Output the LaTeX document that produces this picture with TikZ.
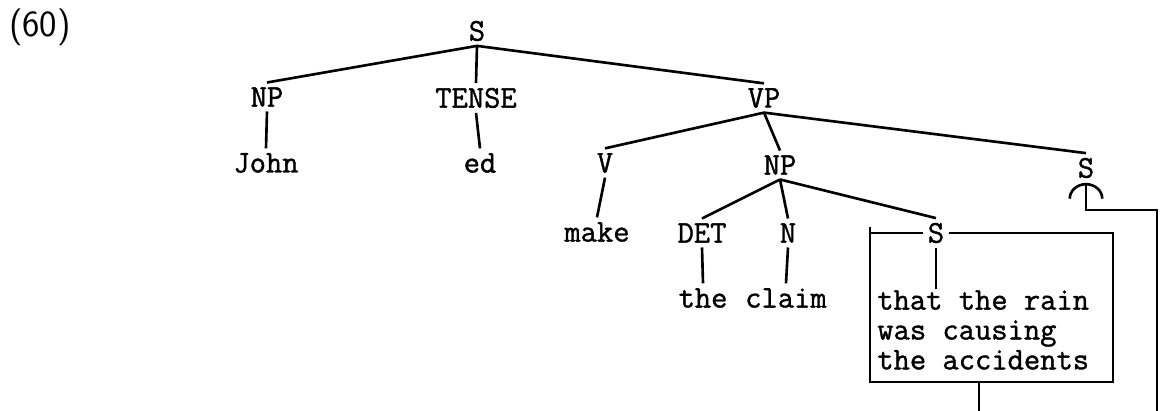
\documentclass[tikz,border=0pt]{standalone}
\usepackage{fontspec}
\setmonofont{Latin Modern Mono}[FakeBold=1.2]
\usetikzlibrary{arrows.meta}
\begin{document}
\begin{tikzpicture}[x=0.02cm,y=-0.02cm,line width=1.5pt,
  tn/.style={font=\fontsize{18}{17}\selectfont\ttfamily,inner sep=2pt},
  mv/.style={-{Arc Barb[length=9pt,width=20pt]}}]
\useasboundingbox (0,0) rectangle (1160,411);
\node[font=\fontsize{21}{21}\selectfont\sffamily] (num) at (40,27) {(60)};
\node[tn] (s) at (477,31) {S};
\node[tn] (np) at (267,97) {NP};
\node[tn] (tense) at (476,98) {TENSE};
\node[tn] (vp) at (764,98) {VP};
\node[tn] (john) at (266,163) {John};
\node[tn] (ed) at (480,163) {ed};
\node[tn] (v) at (605,163) {V};
\node[tn] (np2) at (780,165) {NP};
\node[tn] (s2) at (1086,168) {S};
\node[tn] (make) at (597,232) {make};
\node[tn] (det) at (702,233) {DET};
\node[tn] (n) at (788,233) {N};
\node[tn] (s3) at (936,233) {S};
\node[tn] (the) at (703,298) {the};
\node[tn] (claim) at (786,298) {claim};
\node[tn,align=left,anchor=north west,inner sep=0pt] (clause) at (876,289) {that the rain\\was causing\\the accidents};
\draw (s.south) -- (np.north);
\draw (s.south) -- (tense.north);
\draw (s.south) -- (vp.north);
\draw (np.south) -- (john.north);
\draw (tense.south) -- (ed.north);
\draw (vp.south) -- (v.north);
\draw (vp.south) -- (np2.north);
\draw (vp.south) -- (s2.north);
\draw (v.south) -- (make.north);
\draw (np2.south) -- (det.north);
\draw (np2.south) -- (n.north);
\draw (np2.south) -- (s3.north);
\draw (det.south) -- (the.north);
\draw (n.south) -- (claim.north);
\draw (s3.south) -- (s3.south |- clause.north);
\draw (s3.west) -- (870,233);
\draw (s3.east) -- (1113,233) -- (1113,382) -- (870,382) -- (870,227);
\coordinate (boxfoot) at (979,382);
\coordinate (stem) at (979,411);
\draw (boxfoot) -- (stem);
\coordinate (mvfoot) at (1157,411);
\coordinate (mvtop) at (1157,210);
\draw[mv] (mvfoot) -- (mvtop) -- (s2.south |- mvtop) -- (s2.south);
\end{tikzpicture}
\end{document}
